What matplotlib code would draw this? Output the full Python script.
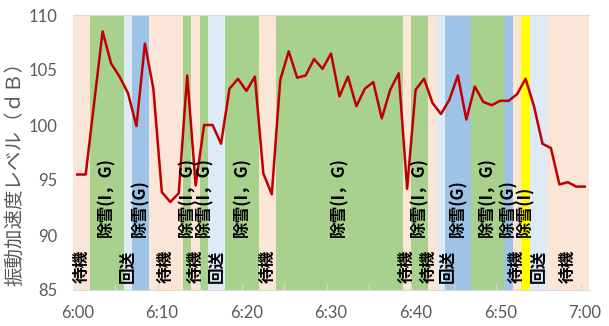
import matplotlib
matplotlib.use('Agg')
import matplotlib.pyplot as plt
from matplotlib.ticker import FixedLocator

# ---------------- data ----------------
minutes = list(range(61))  # minutes after 6:00
tick_minutes = [0, 10, 20, 30, 40, 50, 60]
time_labels = ['6:00', '6:10', '6:20', '6:30', '6:40', '6:50', '7:00']
y_ticks = [85, 90, 95, 100, 105, 110]

level_db = [95.5, 95.5, 102.0, 108.5, 105.6, 104.4, 102.9, 99.9, 107.4, 103.3,
            93.9, 93.0, 93.8, 104.5, 94.5, 100.0, 100.0, 98.3, 103.3, 104.2,
            103.1, 104.4, 95.6, 93.7, 104.1, 106.7, 104.3, 104.5, 106.0, 105.1,
            106.5, 102.6, 104.4, 101.7, 103.3, 103.9, 100.6, 103.2, 104.7, 94.2,
            103.2, 104.2, 102.0, 101.0, 102.3, 104.5, 100.5, 103.5, 102.1, 101.8,
            102.2, 102.2, 102.8, 104.2, 101.7, 98.3, 97.9, 94.6, 94.8, 94.4, 94.4]

# operation state for each minute
states = (['W'] * 2 + ['IG'] * 4 + ['R'] * 1 + ['G'] * 2 + ['W'] * 4 + ['IG'] * 1 +
          ['W'] * 1 + ['IG'] * 1 + ['R'] * 2 + ['IG'] * 4 + ['W'] * 2 + ['IG'] * 15 +
          ['W'] * 1 + ['IG'] * 2 + ['W'] * 1 + ['R'] * 1 + ['G'] * 3 + ['IG'] * 4 +
          ['G'] * 1 + ['W'] * 1 + ['I'] * 1 + ['R'] * 2 + ['W'] * 5)

state_names = {'W': '待機', 'IG': '除雪(I，G)', 'R': '回送', 'G': '除雪(G)', 'I': '除雪(I)'}
state_colors = {'W': '#FBE5D6', 'IG': '#A9D18E', 'R': '#DEEBF7', 'G': '#9DC3E6', 'I': '#FFFF00'}
label_base = {'W': 85.6, 'R': 85.6, 'IG': 89.8, 'G': 89.8, 'I': 89.8}

y_min, y_max = 85, 110

# ---------------- plot ----------------
fig = plt.figure(figsize=(6.09, 3.26), dpi=100)
ax = fig.add_axes([73 / 609, 36 / 326, 516 / 609, 275 / 326])

ax.bar(minutes, [y_max - y_min] * len(minutes), bottom=y_min, width=1.0,
       color=[state_colors[s] for s in states], linewidth=0, zorder=1)

ax.plot(minutes, level_db, color='#C00000', linewidth=1.8, zorder=3)

# segment labels
runs = []
start = 0
for i in range(1, len(states) + 1):
    if i == len(states) or states[i] != states[start]:
        runs.append((start, i - 1, states[start]))
        start = i
# small horizontal nudges for crowded single-minute labels (label index -> minutes)
nudge = {14: -0.5, 15: 0.75}
for k, (a, b, s) in enumerate(runs):
    xc = (minutes[a] + minutes[b]) / 2 + nudge.get(k, 0.0)
    ax.text(xc, label_base[s], state_names[s], rotation=90, ha='center', va='bottom',
            fontsize=12, fontweight='bold', color='black',
            family=['Noto Sans CJK JP', 'DejaVu Sans'], zorder=4)

ax.set_xlim(-0.5, 60.5)
ax.set_ylim(y_min, y_max)
ax.set_xticks(tick_minutes)
ax.set_xticklabels(time_labels)
ax.xaxis.set_minor_locator(FixedLocator([m + 0.5 for m in range(4, 60, 5)]))
ax.set_yticks(y_ticks)
for lab in ax.get_xticklabels() + ax.get_yticklabels():
    lab.set_family(['Lato', 'DejaVu Sans'])
    lab.set_fontsize(12)
    lab.set_color('#595959')
ax.tick_params(axis='x', which='major', length=0, pad=11)
ax.tick_params(axis='x', which='minor', length=4, direction='in', color='#D9D9D9', width=1)
ax.tick_params(axis='y', which='both', length=0, pad=11)

for side in ['left', 'right']:
    ax.spines[side].set_visible(False)
ax.spines['top'].set_color('#D9D9D9')
ax.spines['bottom'].set_color('#D9D9D9')
ax.spines['top'].set_zorder(5)
ax.spines['bottom'].set_zorder(5)

ax.set_ylabel('振動加速度レベル（ｄＢ）', family=['Noto Sans CJK JP', 'DejaVu Sans'],
              fontsize=14, color='#595959')
ax.yaxis.set_label_coords(-0.092, 0.44)

fig.savefig('out.png', dpi=100)
